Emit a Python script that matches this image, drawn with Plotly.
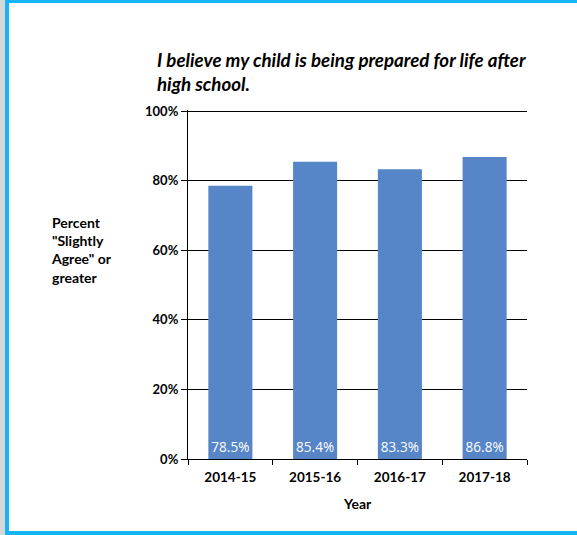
import plotly.graph_objects as go

years = ["2014-15", "2015-16", "2016-17", "2017-18"]
values = [78.5, 85.4, 83.3, 86.8]
y_ticks = [0, 20, 40, 60, 80, 100]
title_text = "I believe my child is being prepared for life after<br>high school."
y_title_lines = ["Percent", "\"Slightly", "Agree\" or", "greater"]
x_title = "Year"

W, H = 577, 535
L, R, T, B = 188, 50, 110, 76
PW, PH = W - L - R, H - T - B


def px(x):
    return (x - L) / PW


def py(y):
    return (H - B - y) / PH


fig = go.Figure()
fig.add_trace(go.Bar(
    x=years, y=values, width=0.52,
    marker=dict(color="#5685C8", line=dict(width=0)),
    texttemplate="%{y:.1f}%", textposition="inside", insidetextanchor="start",
    textangle=0,
    textfont=dict(family="Open Sans", size=15, color="white"),
    cliponaxis=False,
))

fig.update_layout(
    width=W, height=H,
    margin=dict(l=L, r=R, t=T, b=B),
    paper_bgcolor="white", plot_bgcolor="white",
    showlegend=False,
    font=dict(family="Lato", color="black"),
)
fig.update_xaxes(
    showline=True, linecolor="black", linewidth=1.2,
    ticks="outside", tickson="boundaries", ticklen=5, tickcolor="black",
    tickfont=dict(family="Lato", size=13.5, weight="bold"),
    ticklabelstandoff=6,
    showgrid=False,
)
fig.update_yaxes(
    range=[0, 100.3], tickvals=y_ticks, ticktext=[f"{v}%" for v in y_ticks],
    showline=True, linecolor="black", linewidth=1.2,
    ticks="outside", ticklen=6, tickcolor="black",
    tickfont=dict(family="Lato", size=13, weight="bold"),
    showgrid=True, gridcolor="black", gridwidth=1,
    zeroline=False,
)

annotations = [
    dict(text=title_text, x=px(155), y=py(47), xref="paper", yref="paper",
         xanchor="left", yanchor="top", align="left", showarrow=False,
         font=dict(family="Lato", size=18.7, color="black", style="italic", weight="bold")),
    dict(text="<br>".join(y_title_lines), x=px(49), y=py(212), xref="paper", yref="paper",
         xanchor="left", yanchor="top", align="left", showarrow=False,
         font=dict(family="Lato", size=14, color="black", weight="bold")),
    dict(text=x_title, x=px(357), y=py(503), xref="paper", yref="paper",
         xanchor="center", yanchor="middle", showarrow=False,
         font=dict(family="Lato", size=14, color="black", weight="bold")),
]
fig.update_layout(annotations=annotations)

shapes = [
    dict(type="rect", xref="paper", yref="paper", x0=px(0), x1=px(5), y0=py(535), y1=py(0),
         fillcolor="#d6d6d6", line=dict(width=0), layer="below"),
    dict(type="rect", xref="paper", yref="paper", x0=px(5), x1=px(9), y0=py(535), y1=py(0),
         fillcolor="#14B4F5", line=dict(width=0)),
    dict(type="rect", xref="paper", yref="paper", x0=px(5), x1=px(577), y0=py(3), y1=py(0),
         fillcolor="#14B4F5", line=dict(width=0)),
    dict(type="rect", xref="paper", yref="paper", x0=px(5), x1=px(577), y0=py(535), y1=py(531),
         fillcolor="#14B4F5", line=dict(width=0)),
]
fig.update_layout(shapes=shapes)

fig.write_html("out.html", config={"displayModeBar": False},
               post_script="document.body.style.margin='0';document.body.style.overflow='hidden';")
